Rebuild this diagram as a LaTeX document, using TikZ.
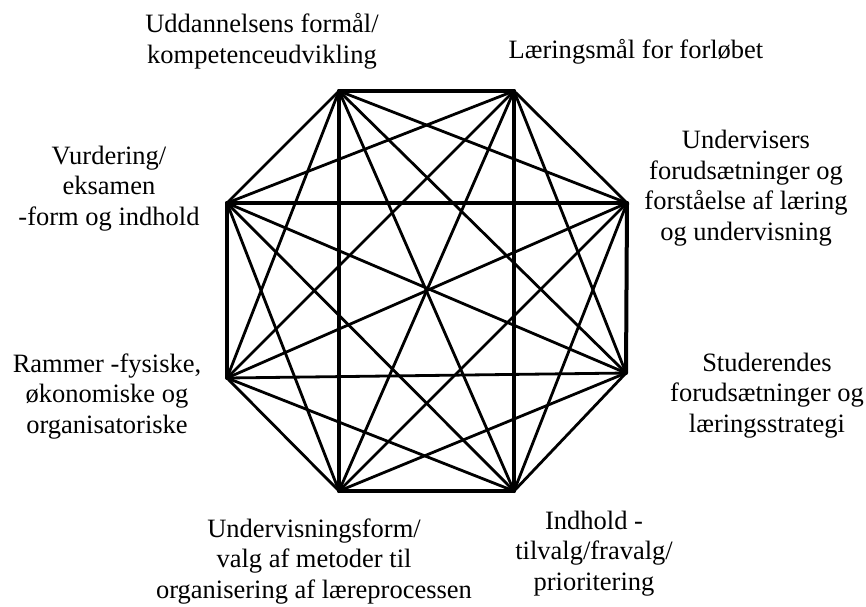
\documentclass[tikz,border=0pt]{standalone}
\usepackage{fontspec}
\setmainfont{Liberation Serif}
\usepackage{tikz}

\begin{document}
\begin{tikzpicture}[x=1pt, y=-1pt,
  edge/.style={line width=2.8pt, line cap=round},
  side/.style={line width=4pt, line cap=round},
  lbl/.style={align=center, anchor=base, inner sep=0pt, font=\fontsize{26.5}{30.5}\selectfont},
]
  \useasboundingbox (0,0) rectangle (866,606);

  % corners of the octagon
  \coordinate (tl) at (339,91);
  \coordinate (tr) at (514,91);
  \coordinate (rt) at (627,203);
  \coordinate (rb) at (626,373);
  \coordinate (br) at (514,491);
  \coordinate (bl) at (339,491);
  \coordinate (lb) at (227,378);
  \coordinate (lt) at (227,203);

  % every corner linked to every other one
  \foreach \a/\b in {tl/rt, tl/rb, tl/br, tl/lb, tl/lt,
                     tr/rb, tr/bl, tr/lb, tr/lt, tr/rt,
                     rt/br, rt/bl, rt/lb,
                     rb/bl, rb/lt, rb/br, rb/lb,
                     br/lb, br/lt,
                     bl/lt, bl/lb}
    \draw[edge] (\a) -- (\b);

  % sides and inner square, heavier
  \draw[side] (tl) -- (tr);
  \draw[side] (bl) -- (br);
  \draw[side] (lt) -- (lb);
  \draw[side] (rt) -- (rb);
  \draw[side] (tl) -- (bl);
  \draw[side] (tr) -- (br);
  \draw[side] (lt) -- (rt);

  % labels round the octagon (placed by the baseline of their last line)
  \node[lbl] (formaal) at (262,63) {Uddannelsens formål/\\kompetenceudvikling};
  \node[lbl] (laeringsmaal) at (636,58) {Læringsmål for forløbet};
  \node[lbl] (undervisers) at (746,240) {Undervisers\\forudsætninger og\\forståelse af læring\\og undervisning};
  \node[lbl] (studerendes) at (767,432) {Studerendes\\forudsætninger og\\læringsstrategi};
  \node[lbl] (indhold) at (594,590) {Indhold -\\tilvalg/fravalg/\\prioritering};
  \node[lbl] (undvform) at (314,598) {Undervisningsform/\\valg af metoder til\\organisering af læreprocessen};
  \node[lbl] (rammer) at (107,433) {Rammer -fysiske,\\økonomiske og\\organisatoriske};
  \node[lbl] (vurdering) at (109,225) {Vurdering/\\eksamen\\-form og indhold};
\end{tikzpicture}
\end{document}
